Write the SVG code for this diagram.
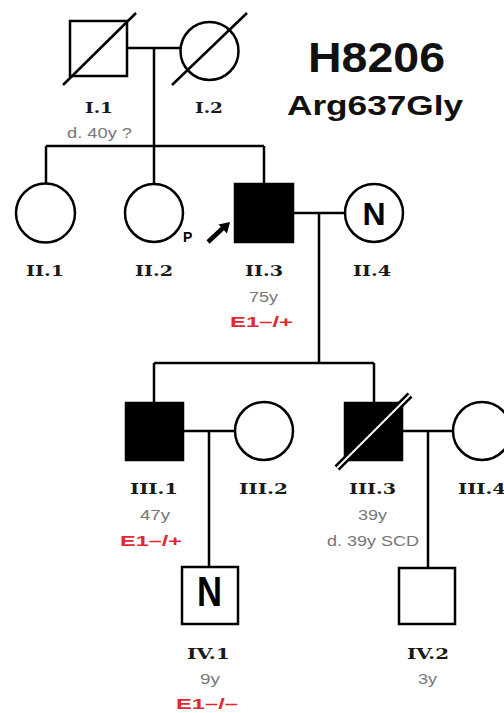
<svg xmlns="http://www.w3.org/2000/svg" width="504" height="713" viewBox="0 0 504 713">
<style>
.ln{stroke:#000;stroke-width:2.5;fill:none}
.sh{stroke:#000;stroke-width:2.5;fill:#fff}
.aff{stroke:#000;stroke-width:2.5;fill:#000}
.lbl{font-family:"DejaVu Serif",serif;font-weight:bold;font-size:15.5px;fill:#1a1a1a}
.gr{font-family:"Liberation Sans",Arial,sans-serif;font-size:15px;fill:#777}
.red{font-family:"Liberation Sans",Arial,sans-serif;font-weight:bold;font-size:15px;fill:#e0282e}
.nn{font-family:"Liberation Sans",Arial,sans-serif;font-weight:bold;fill:#000}
.ttl{font-family:"Liberation Sans",Arial,sans-serif;font-weight:bold;fill:#111}
</style>
<rect width="504" height="713" fill="#fff"/>
<g id="title">
<text class="ttl" x="308" y="72" font-size="42" textLength="137" lengthAdjust="spacingAndGlyphs">H8206</text>
<text class="ttl" x="287" y="115" font-size="28" textLength="176" lengthAdjust="spacingAndGlyphs">Arg637Gly</text>
</g>
<g id="connectors">
<path class="ln" d="M127 48H180M154 48V146M46 146H264M46 146V183M154 146V184M264 146V184"/>
<path class="ln" d="M293 213H345M319 213V363M154 363H374M154 363V403M374 363V403"/>
<path class="ln" d="M183 431H235M209 431V567M402 431H453M428 431V568"/>
</g>
<g id="I1">
<rect class="sh" x="70" y="21" width="57" height="55"/>
<line class="ln" x1="63" y1="85" x2="136" y2="13"/>
<text class="lbl" x="85" y="113" textLength="28" lengthAdjust="spacingAndGlyphs">I.1</text>
<text class="gr" x="67" y="138" textLength="65" lengthAdjust="spacingAndGlyphs">d. 40y ?</text>
</g>
<g id="I2">
<circle class="sh" cx="209.5" cy="51" r="29"/>
<line class="ln" x1="172" y1="85" x2="247" y2="13"/>
<text class="lbl" x="195" y="113" textLength="28" lengthAdjust="spacingAndGlyphs">I.2</text>
</g>
<g id="II1">
<circle class="sh" cx="45.5" cy="213" r="29.5"/>
<text class="lbl" x="26" y="276" textLength="38" lengthAdjust="spacingAndGlyphs">II.1</text>
</g>
<g id="II2">
<circle class="sh" cx="154" cy="213" r="29"/>
<text class="nn" x="183" y="242" font-size="14">P</text>
<text class="lbl" x="135" y="276" textLength="38" lengthAdjust="spacingAndGlyphs">II.2</text>
</g>
<g id="II3">
<rect class="aff" x="235" y="184" width="58" height="58"/>
<line x1="208" y1="242" x2="223" y2="228" stroke="#000" stroke-width="4.5"/>
<polygon points="230,222 227,233.5 218.5,224.5" fill="#000"/>
<text class="lbl" x="245" y="276" textLength="38" lengthAdjust="spacingAndGlyphs">II.3</text>
<text class="gr" x="249" y="302" textLength="29" lengthAdjust="spacingAndGlyphs">75y</text>
<text class="red" x="230" y="327" textLength="63" lengthAdjust="spacingAndGlyphs">E1–/+</text>
</g>
<g id="II4">
<circle class="sh" cx="374" cy="213" r="29"/>
<text class="nn" x="374" y="224.5" font-size="32" text-anchor="middle">N</text>
<text class="lbl" x="353" y="276" textLength="38" lengthAdjust="spacingAndGlyphs">II.4</text>
</g>
<g id="III1">
<rect class="aff" x="126" y="403" width="57" height="57"/>
<text class="lbl" x="130" y="494" textLength="48" lengthAdjust="spacingAndGlyphs">III.1</text>
<text class="gr" x="140" y="520" textLength="30" lengthAdjust="spacingAndGlyphs">47y</text>
<text class="red" x="120" y="546" textLength="62" lengthAdjust="spacingAndGlyphs">E1–/+</text>
</g>
<g id="III2">
<circle class="sh" cx="264" cy="431" r="29"/>
<text class="lbl" x="239" y="494" textLength="49" lengthAdjust="spacingAndGlyphs">III.2</text>
</g>
<g id="III3">
<rect class="aff" x="345" y="403" width="57" height="57"/>
<line x1="337" y1="468" x2="410" y2="395" stroke="#000" stroke-width="7"/>
<line x1="337" y1="468" x2="410" y2="395" stroke="#fff" stroke-width="2"/>
<text class="lbl" x="349" y="494" textLength="47" lengthAdjust="spacingAndGlyphs">III.3</text>
<text class="gr" x="358" y="520" textLength="29" lengthAdjust="spacingAndGlyphs">39y</text>
<text class="gr" x="327" y="546" textLength="92" lengthAdjust="spacingAndGlyphs">d. 39y SCD</text>
</g>
<g id="III4">
<circle class="sh" cx="482" cy="431" r="29"/>
<text class="lbl" x="458" y="494" textLength="48" lengthAdjust="spacingAndGlyphs">III.4</text>
</g>
<g id="IV1">
<rect class="sh" x="182" y="567" width="56" height="57"/>
<text class="nn" x="197" y="606" font-size="42" textLength="25" lengthAdjust="spacingAndGlyphs">N</text>
<text class="lbl" x="187" y="659" textLength="43" lengthAdjust="spacingAndGlyphs">IV.1</text>
<text class="gr" x="200" y="684" textLength="20" lengthAdjust="spacingAndGlyphs">9y</text>
<text class="red" x="176" y="709" textLength="62" lengthAdjust="spacingAndGlyphs">E1–/–</text>
</g>
<g id="IV2">
<rect class="sh" x="399" y="568" width="56" height="56"/>
<text class="lbl" x="407" y="659" textLength="42" lengthAdjust="spacingAndGlyphs">IV.2</text>
<text class="gr" x="418" y="684" textLength="19" lengthAdjust="spacingAndGlyphs">3y</text>
</g>
</svg>
